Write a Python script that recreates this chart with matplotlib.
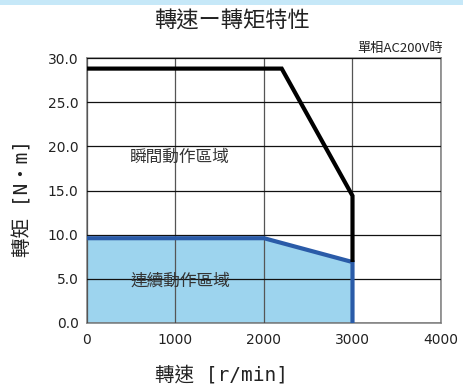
import matplotlib
matplotlib.use("Agg")
import matplotlib.pyplot as plt
from matplotlib.patches import Rectangle

plt.rcParams['font.family'] = ['Noto Sans CJK TC', 'DejaVu Sans']

# Speed-torque characteristic data
peak_speed = [0, 2200, 3000, 3000]
peak_torque = [28.8, 28.8, 14.4, 6.9]
cont_speed = [0, 2000, 3000, 3000]
cont_torque = [9.6, 9.6, 6.9, 0.0]

x_ticks = [0, 1000, 2000, 3000, 4000]
y_ticks = [0.0, 5.0, 10.0, 15.0, 20.0, 25.0, 30.0]

fig = plt.figure(figsize=(4.64, 3.88), dpi=100)
fig.patches.append(Rectangle((0, 0.988), 1, 0.012, transform=fig.transFigure,
                             facecolor='#c6e8f8', edgecolor='none'))

ax = fig.add_axes([87/464, 1 - 323/388, (441 - 87)/464, (323 - 58)/388])
ax.set_xlim(0, 4000)
ax.set_ylim(0, 30)

ax.fill_between(cont_speed, cont_torque, 0, color='#9dd4ee', zorder=1, linewidth=0)
ax.xaxis.grid(True, color='#555555', linewidth=0.9, zorder=2)
ax.yaxis.grid(True, color='#111111', linewidth=0.9, zorder=2)
ax.set_axisbelow(False)
ax.plot(cont_speed, cont_torque, color='#2a5ba8', linewidth=3, zorder=3,
        solid_joinstyle='miter', solid_capstyle='butt')
ax.plot(peak_speed, peak_torque, color='#000000', linewidth=3, zorder=4,
        solid_joinstyle='miter', solid_capstyle='butt')

ax.set_xticks(x_ticks)
ax.set_yticks(y_ticks)
ax.set_xticklabels([str(v) for v in x_ticks], family=['DejaVu Sans'])
ax.set_yticklabels([f"{v:.1f}" for v in y_ticks], family=['DejaVu Sans'])
ax.tick_params(axis='x', length=0, labelsize=10, colors='#222222', pad=7)
ax.tick_params(axis='y', length=0, labelsize=10, colors='#222222', pad=6)
for s in ax.spines.values():
    s.set_color('#888888')
    s.set_linewidth(1.2)

ax.text(1050, 18.8, '瞬間動作區域', ha='center', va='center', fontsize=12, color='#333333')
ax.text(1050, 4.7, '連續動作區域', ha='center', va='center', fontsize=12, color='#333333')

mono_cjk = ['DejaVu Sans Mono', 'Noto Sans CJK TC']
fig.text(232/464, 1 - 21/388, '轉速ー轉矩特性', ha='center', va='center', fontsize=16, color='#222222')
fig.text(400/464, 1 - 48/388, '單相AC200V時', ha='center', va='center', fontsize=9.5, color='#222222')
fig.text(222/464, 1 - 375/388, '轉速 [r/min]', ha='center', va='center', fontsize=14,
         color='#222222', family=mono_cjk)
fig.text(23/464, 1 - 198/388, '轉矩 [N・m]', ha='center', va='center', fontsize=14,
         rotation=90, color='#222222', family=mono_cjk)

fig.savefig('out.png', dpi=100)
